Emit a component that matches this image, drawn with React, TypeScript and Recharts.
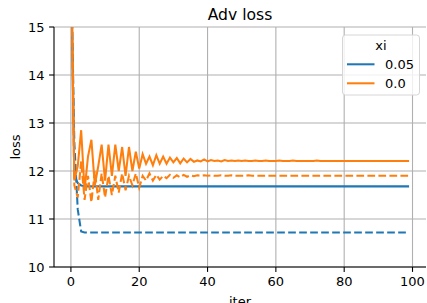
import React from "react";
import { LineChart, Line, XAxis, YAxis, CartesianGrid } from "recharts";

const iters: number[] = Array.from({ length: 100 }, (_, i) => i);

const blueSolid: number[] = [
  16.5, 11.9, 11.75, 11.7, 11.69, 11.68, 11.68, 11.68, 11.68, 11.68,
  11.68, 11.68, 11.68, 11.68, 11.68, 11.68, 11.68, 11.68, 11.68, 11.68,
  11.68, 11.68, 11.68, 11.68, 11.68, 11.68, 11.68, 11.68, 11.68, 11.68,
  11.68, 11.68, 11.68, 11.68, 11.68, 11.68, 11.68, 11.68, 11.68, 11.68,
  11.68, 11.68, 11.68, 11.68, 11.68, 11.68, 11.68, 11.68, 11.68, 11.68,
  11.68, 11.68, 11.68, 11.68, 11.68, 11.68, 11.68, 11.68, 11.68, 11.68,
  11.68, 11.68, 11.68, 11.68, 11.68, 11.68, 11.68, 11.68, 11.68, 11.68,
  11.68, 11.68, 11.68, 11.68, 11.68, 11.68, 11.68, 11.68, 11.68, 11.68,
  11.68, 11.68, 11.68, 11.68, 11.68, 11.68, 11.68, 11.68, 11.68, 11.68,
  11.68, 11.68, 11.68, 11.68, 11.68, 11.68, 11.68, 11.68, 11.68, 11.68,
];

const blueDashed: number[] = [
  16.5, 12.6, 11.2, 10.74, 10.72, 10.72, 10.72, 10.72, 10.72, 10.72,
  10.72, 10.72, 10.72, 10.72, 10.72, 10.72, 10.72, 10.72, 10.72, 10.72,
  10.72, 10.72, 10.72, 10.72, 10.72, 10.72, 10.72, 10.72, 10.72, 10.72,
  10.72, 10.72, 10.72, 10.72, 10.72, 10.72, 10.72, 10.72, 10.72, 10.72,
  10.72, 10.72, 10.72, 10.72, 10.72, 10.72, 10.72, 10.72, 10.72, 10.72,
  10.72, 10.72, 10.72, 10.72, 10.72, 10.72, 10.72, 10.72, 10.72, 10.72,
  10.72, 10.72, 10.72, 10.72, 10.72, 10.72, 10.72, 10.72, 10.72, 10.72,
  10.72, 10.72, 10.72, 10.72, 10.72, 10.72, 10.72, 10.72, 10.72, 10.72,
  10.72, 10.72, 10.72, 10.72, 10.72, 10.72, 10.72, 10.72, 10.72, 10.72,
  10.72, 10.72, 10.72, 10.72, 10.72, 10.72, 10.72, 10.72, 10.72, 10.72,
];

const orangeSolid: number[] = [
  16.8, 11.8, 12.1, 12.85, 11.6, 12.3, 12.65, 11.7, 12.1, 12.55,
  11.8, 12.55, 11.9, 12.55, 12.0, 12.5, 11.9, 12.5, 12.0, 12.4,
  12.05, 12.35, 12.15, 12.3, 12.12, 12.33, 12.15, 12.3, 12.15, 12.28,
  12.18, 12.27, 12.16, 12.26, 12.18, 12.25, 12.19, 12.22, 12.2, 12.24,
  12.2, 12.23, 12.21, 12.22, 12.2, 12.23, 12.21, 12.22, 12.21, 12.22,
  12.21, 12.22, 12.21, 12.21, 12.22, 12.21, 12.21, 12.22, 12.21, 12.21,
  12.21, 12.22, 12.21, 12.21, 12.21, 12.22, 12.21, 12.21, 12.21, 12.21,
  12.21, 12.21, 12.22, 12.21, 12.21, 12.21, 12.21, 12.21, 12.21, 12.21,
  12.21, 12.21, 12.21, 12.21, 12.21, 12.21, 12.21, 12.21, 12.21, 12.21,
  12.21, 12.21, 12.21, 12.21, 12.21, 12.21, 12.21, 12.21, 12.21, 12.21,
];

const orangeDashed: number[] = [
  16.8, 11.7, 11.45, 12.2, 11.4, 11.9, 11.35, 12.0, 11.4, 11.95,
  11.45, 11.9, 11.5, 11.9, 11.55, 11.95, 11.6, 11.9, 11.7, 11.95,
  11.65, 11.9, 11.8, 11.95, 11.8, 11.92, 11.82, 11.9, 11.85, 11.92,
  11.86, 11.91, 11.87, 11.92, 11.88, 11.91, 11.89, 11.91, 11.9, 11.91,
  11.9, 11.91, 11.9, 11.9, 11.91, 11.9, 11.9, 11.91, 11.9, 11.9,
  11.9, 11.9, 11.91, 11.9, 11.9, 11.9, 11.9, 11.9, 11.9, 11.9,
  11.9, 11.9, 11.9, 11.9, 11.9, 11.9, 11.9, 11.9, 11.9, 11.9,
  11.9, 11.9, 11.9, 11.9, 11.9, 11.9, 11.9, 11.9, 11.9, 11.9,
  11.9, 11.9, 11.9, 11.9, 11.9, 11.9, 11.9, 11.9, 11.9, 11.9,
  11.9, 11.9, 11.9, 11.9, 11.9, 11.9, 11.9, 11.9, 11.9, 11.9,
];

const xTicks: number[] = [0, 20, 40, 60, 80, 100];
const yTicks: number[] = [10, 11, 12, 13, 14, 15];
const legendTitle = "xi";
const legendItems = [
  { label: "0.05", color: "#1f77b4" },
  { label: "0.0", color: "#ff7f0e" },
];

const data = iters.map((it, i) => ({
  iter: it,
  bs: blueSolid[i],
  bd: blueDashed[i],
  os: orangeSolid[i],
  od: orangeDashed[i],
}));

const FONT = "DejaVu Sans, sans-serif";
const FS = 13;
const BLUE = "#1f77b4";
const ORANGE = "#ff7f0e";
const LW = 2.05;
const DASH = "7.7 3.3";

const YLabel = (props: any) => {
  const { viewBox } = props;
  const cy = viewBox.y + viewBox.height / 2;
  return (
    <text x={20} y={cy} transform={`rotate(-90, 20, ${cy})`} textAnchor="middle" fontFamily={FONT} fontSize={FS} fill="#000">
      loss
    </text>
  );
};

const XLabel = (props: any) => {
  const { viewBox } = props;
  const cx = viewBox.x + viewBox.width / 2;
  return (
    <text x={cx} y={306} textAnchor="middle" fontFamily={FONT} fontSize={FS} fill="#000">
      iter
    </text>
  );
};

export default function App() {
  return (
    <div style={{ position: "absolute", left: 0, top: 0, width: 427, height: 303, background: "#fff", overflow: "hidden" }}>
      <LineChart width={427} height={303} data={data} margin={{ top: 27, right: 1, bottom: 0, left: 0 }}>
        <CartesianGrid stroke="#b0b0b0" strokeWidth={1.1} horizontalValues={yTicks} verticalValues={xTicks} />
        <XAxis
          dataKey="iter"
          type="number"
          domain={[-4.95, 103.95]}
          ticks={xTicks}
          allowDataOverflow
          height={36}
          tickSize={4.9}
          tickMargin={5}
          stroke="#000"
          tick={{ fill: "#000", fontSize: FS, fontFamily: FONT }}
          tickLine={{ stroke: "#000", strokeWidth: 1.1 }}
          axisLine={{ stroke: "#000", strokeWidth: 1.1 }}
          label={<XLabel />}
        />
        <XAxis xAxisId="top" orientation="top" dataKey="iter" type="number" domain={[-4.95, 103.95]} height={0} tick={false} tickLine={false} axisLine={{ stroke: "#000", strokeWidth: 1.1 }} />
        <YAxis
          type="number"
          domain={[10, 15]}
          ticks={yTicks}
          allowDataOverflow
          width={54}
          tickSize={4.9}
          tickMargin={4.5}
          tick={{ fill: "#000", fontSize: FS, fontFamily: FONT }}
          tickLine={{ stroke: "#000", strokeWidth: 1.1 }}
          axisLine={{ stroke: "#000", strokeWidth: 1.1 }}
          label={<YLabel />}
        />
        <YAxis yAxisId="right" orientation="right" domain={[10, 15]} width={0} tick={false} tickLine={false} axisLine={{ stroke: "#000", strokeWidth: 1.1 }} />
        <Line dataKey="bd" stroke={BLUE} strokeWidth={LW} strokeDasharray={DASH} dot={false} isAnimationActive={false} />
        <Line dataKey="bs" stroke={BLUE} strokeWidth={LW} dot={false} isAnimationActive={false} />
        <Line dataKey="od" stroke={ORANGE} strokeWidth={LW} strokeDasharray={DASH} dot={false} isAnimationActive={false} />
        <Line dataKey="os" stroke={ORANGE} strokeWidth={LW} dot={false} isAnimationActive={false} />
      </LineChart>
      <svg width={427} height={303} style={{ position: "absolute", left: 0, top: 0, pointerEvents: "none" }}>
        <text x={240} y={20} textAnchor="middle" fontFamily={FONT} fontSize={15.6} fill="#000">
          Adv loss
        </text>
        <rect x={342.5} y={35} width={77} height={60} rx={3} fill="#fff" fillOpacity={0.8} stroke="#d6d6d6" strokeWidth={1} />
        <text x={381} y={49.5} textAnchor="middle" fontFamily={FONT} fontSize={FS} fill="#000">
          {legendTitle}
        </text>
        {legendItems.map((it, i) => (
          <g key={it.label}>
            <line x1={347} x2={374.5} y1={64.3 + i * 19} y2={64.3 + i * 19} stroke={it.color} strokeWidth={LW} />
            <text x={385} y={69 + i * 19} fontFamily={FONT} fontSize={FS} fill="#000">
              {it.label}
            </text>
          </g>
        ))}
      </svg>
    </div>
  );
}
